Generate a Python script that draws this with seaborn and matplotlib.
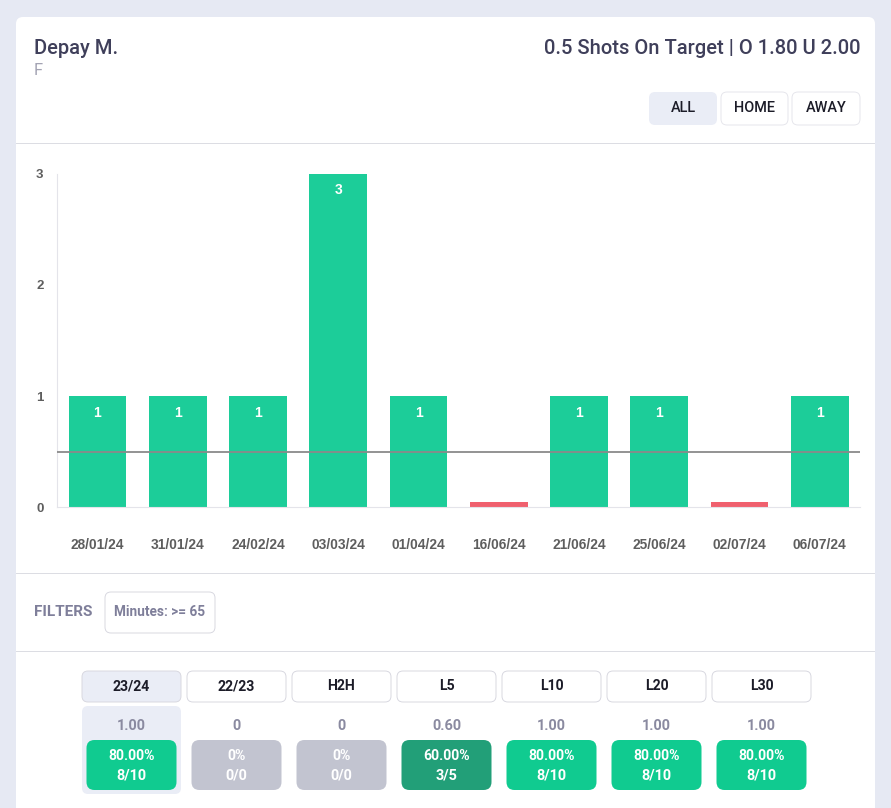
import matplotlib
matplotlib.use('Agg')
import matplotlib.pyplot as plt
from matplotlib.patches import FancyBboxPatch, Rectangle
import pandas as pd
import seaborn as sns

dates = ['28/01/24', '31/01/24', '24/02/24', '03/03/24', '01/04/24',
         '16/06/24', '21/06/24', '25/06/24', '02/07/24', '06/07/24']
shots = [1, 1, 1, 3, 1, 0, 1, 1, 0, 1]
line_value = 0.5

tabs = ['23/24', '22/23', 'H2H', 'L5', 'L10', 'L20', 'L30']
averages = ['1.00', '0', '0', '0.60', '1.00', '1.00', '1.00']
percents = ['80.00%', '0%', '0%', '60.00%', '80.00%', '80.00%', '80.00%']
ratios = ['8/10', '0/0', '0/0', '3/5', '8/10', '8/10', '8/10']

GREEN = '#1ccd99'
RED = '#f0606e'
stub = 0.05  # zero games still get a small red bar

sns.set_theme(style='white')
plt.rcParams['font.family'] = ['Roboto', 'DejaVu Sans']

W, H = 891, 808
fig = plt.figure(figsize=(W / 100, H / 100), dpi=100, facecolor='#e6e9f3')

# page layer, in pixels
ui = fig.add_axes([0, 0, 1, 1])
ui.set_xlim(0, W)
ui.set_ylim(H, 0)
ui.axis('off')


def box(x0, y0, x1, y1, face, edge='none', r=6):
    ui.add_patch(FancyBboxPatch((x0, y0), x1 - x0, y1 - y0,
                                boxstyle=f'round,pad=0,rounding_size={r}',
                                fc=face, ec=edge, lw=0.7))


def label(x, y, s, size, color, weight='normal', ha='center'):
    ui.text(x, y, s, fontsize=size * 0.72, color=color, fontweight=weight,
            ha=ha, va='center')


box(16, 17, 875, 830, 'white', r=7)
for yy in [143, 573, 651]:
    ui.add_patch(Rectangle((16, yy), 859, 1, fc='#dcdde3', ec='none'))

label(34, 48, 'Depay M.', 20.2, '#3f3f5a', weight='medium', ha='left')
label(34, 70.5, 'F', 16.5, '#a3a3b3', ha='left')
label(860, 48, '0.5 Shots On Target | O 1.80 U 2.00', 20.2, '#3f3f5a', weight='medium', ha='right')

box(649, 92, 717, 125, '#eaedf6')
box(721, 92, 788, 125, 'white', '#e6e6ec')
box(792, 92, 860, 125, 'white', '#e6e6ec')
label(683, 107.5, 'ALL', 14.5, '#1c1c28', weight='medium')
label(754.5, 107.5, 'HOME', 14.5, '#1c1c28', weight='medium')
label(826, 107.5, 'AWAY', 14.5, '#1c1c28', weight='medium')

label(34, 611.5, 'FILTERS', 15.2, '#7f7f9a', weight='bold', ha='left')
box(105, 592, 215, 633, 'white', '#d8d8e0')
label(160, 612.5, 'Minutes: >= 65', 13.6, '#7f7f9a', weight='bold')

for i, tab in enumerate(tabs):
    left = 82 + 105 * i
    mid = left + 49.5
    active = i == 0
    if active:
        box(left, 706, left + 99, 794, '#eaedf6')
    box(left, 671, left + 99, 702, '#eaedf6' if active else 'white', '#d8d8e0')
    label(mid, 686.5, tab, 14, '#1c1c28', weight='bold')
    label(mid, 725.5, averages[i], 14.5, '#8a8aa0', weight='bold')
    if ratios[i] == '0/0':
        tile = '#c2c4d0'
    elif percents[i] == '60.00%':
        tile = '#229f78'
    else:
        tile = '#10cb90'
    box(mid - 45, 740, mid + 45, 790, tile, r=8)
    label(mid, 755.5, percents[i], 14, 'white', weight='bold')
    label(mid, 775.5, ratios[i], 14.5, 'white', weight='bold')

# chart layer
df = pd.DataFrame({'date': dates, 'shots': shots})
df['height'] = df['shots'].clip(lower=stub)
colors = [GREEN if s > line_value else RED for s in shots]

ax = fig.add_axes([57.3 / W, 1 - 507.5 / H, 802.7 / W, 334 / H])
ax.patch.set_alpha(0)
sns.barplot(data=df, x='date', y='height', hue='date', palette=colors,
            width=0.72, saturation=1, linewidth=0, legend=False, ax=ax)
ax.set_xlim(-0.5, 9.5)
ax.set_ylim(0, 3)
ax.set_xlabel('')
ax.set_ylabel('')
ax.set_yticks([0, 1, 2, 3])
ax.tick_params(axis='x', length=0, pad=22)
ax.tick_params(axis='y', length=0, pad=10)
for t in ax.get_xticklabels():
    t.set(fontsize=9.9, fontweight='bold', color='#5e5e5e', family='Liberation Sans')
for t in ax.get_yticklabels():
    t.set(fontsize=9.5, fontweight='bold', color='#5e5e5e', family='Liberation Sans')
sns.despine(ax=ax, top=True, right=True)
for side in ['left', 'bottom']:
    ax.spines[side].set_color('#e4e4ea')
    ax.spines[side].set_linewidth(0.8)

for cont, val in zip(ax.containers, shots):
    if val > 0:
        ax.bar_label(cont, labels=[str(val)], padding=-17, color='white',
                     fontsize=10, fontweight='bold', family='Liberation Sans')

ax.axhline(line_value, color='#8a8a8a', lw=1.3, zorder=5)

fig.savefig('out.png', dpi=100, facecolor=fig.get_facecolor())
